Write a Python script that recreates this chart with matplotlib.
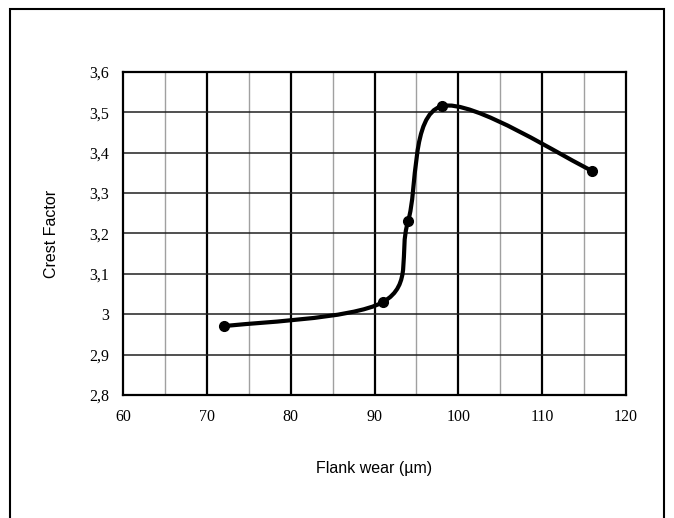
import numpy as np
import matplotlib.pyplot as plt
from matplotlib.path import Path
from matplotlib.patches import PathPatch, Rectangle

# Datos
flank_wear = [72, 91, 94, 98, 116]          # um
crest_factor = [2.97, 3.03, 3.23, 3.515, 3.355]

x_ticks = [60, 70, 80, 90, 100, 110, 120]
y_ticks = [2.8, 2.9, 3.0, 3.1, 3.2, 3.3, 3.4, 3.5, 3.6]
y_labels = ['2,8', '2,9', '3', '3,1', '3,2', '3,3', '3,4', '3,5', '3,6']

xmin, xmax = 60, 120
ymin, ymax = 2.8, 3.6


def smoothPath(xs, ys):
    # curva suavizada tipo Catmull-Rom (como las lineas suavizadas de Excel)
    sx = xmax - xmin
    sy = (ymax - ymin) * 1.55
    p = np.column_stack([(np.array(xs) - xmin) / sx, (np.array(ys) - ymin) / sy])
    n = len(p)
    verts = [p[0]]
    codes = [Path.MOVETO]
    for i in range(n - 1):
        p0 = p[i - 1] if i > 0 else p[i]
        p3 = p[i + 2] if i + 2 < n else p[i + 1]
        c1 = p[i] + (p[i + 1] - p0) / 6
        c2 = p[i + 1] - (p3 - p[i]) / 6
        verts += [c1, c2, p[i + 1]]
        codes += [Path.CURVE4] * 3
    verts = np.array(verts)
    verts[:, 0] = verts[:, 0] * sx + xmin
    verts[:, 1] = verts[:, 1] * sy + ymin
    return Path(verts, codes)


fig = plt.figure(figsize=(6.74, 5.18), dpi=100)
ax = fig.add_axes([0.1825, 0.2375, 0.7463, 0.6236])

# marco exterior
fig.patches.append(Rectangle((10 / 674, -0.05), 654 / 674, 1.05 - 9 / 518,
                             transform=fig.transFigure, fill=False,
                             edgecolor='k', linewidth=1.5))

# rejilla
for xv in np.arange(65, 120, 10):
    ax.axvline(xv, color='#a0a0a0', linewidth=1.0, zorder=1)
for xv in x_ticks[1:-1]:
    ax.axvline(xv, color='k', linewidth=1.6, zorder=1)
for yv in y_ticks[1:-1]:
    ax.axhline(yv, color='#202020', linewidth=1.1, zorder=1)

ax.add_patch(PathPatch(smoothPath(flank_wear, crest_factor), facecolor='none',
                       edgecolor='k', linewidth=3, zorder=3))
ax.plot(flank_wear, crest_factor, 'o', color='k', markersize=7, zorder=4)

ax.set_xlim(xmin, xmax)
ax.set_ylim(ymin, ymax)
ax.set_xticks(x_ticks)
ax.set_yticks(y_ticks)
ax.set_yticklabels(y_labels)
ax.tick_params(length=0, pad=10, labelsize=11.5)
for lab in ax.get_xticklabels() + ax.get_yticklabels():
    lab.set_family('Liberation Serif')
for s in ax.spines.values():
    s.set_linewidth(1.6)
    s.set_zorder(5)

ax.set_xlabel('Flank wear (µm)', family='Liberation Sans', fontsize=11.5, labelpad=26)
ax.set_ylabel('Crest Factor', family='Liberation Sans', fontsize=11.5, labelpad=22)

fig.savefig('out.png', dpi=100)
